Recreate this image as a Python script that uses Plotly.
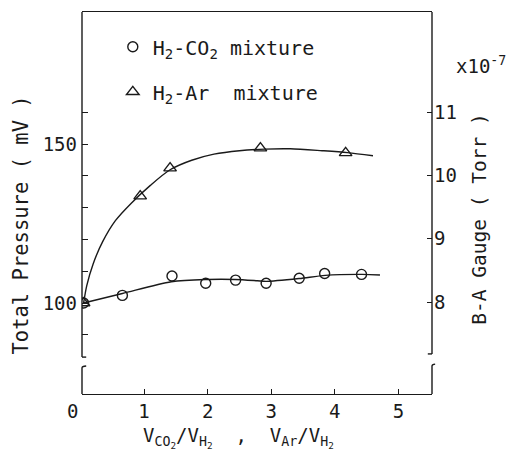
import plotly.graph_objects as go

# ---- data ----
co2_x = [0.05, 0.66, 1.44, 1.97, 2.44, 2.92, 3.44, 3.84, 4.42]
co2_y = [100.0, 102.4, 108.5, 106.2, 107.2, 106.2, 107.8, 109.3, 109.0]
ar_x = [0.05, 0.94, 1.41, 2.83, 4.17]
ar_y = [100.0, 133.6, 142.4, 148.7, 147.2]

# fitted curves
co2_fit_x = [0.05, 0.66, 1.43, 2.0, 2.43, 2.78, 2.92, 3.44, 3.85, 4.43, 4.71]
co2_fit_y = [100.0, 103.0, 106.7, 107.4, 107.4, 107.0, 106.8, 107.7, 108.7, 109.0, 108.8]
ar_fit_x = [0.05, 0.1, 0.2, 0.35, 0.55, 0.8, 1.1, 1.41, 1.75, 2.1, 2.5, 2.9, 3.3, 3.8, 4.2, 4.6]
ar_fit_y = [100.0, 105.5, 112.3, 119.3, 125.9, 131.4, 137.0, 141.9, 144.9, 146.8, 147.9, 148.4, 148.5, 147.9, 147.3, 146.3]

left_ticks = [90, 100, 110, 120, 130, 140, 150, 160]
left_labels = ["", "100", "", "", "", "", "150", ""]
right_ticks = [8, 9, 10, 11]
right_labels = ["8", "9", "10", "11"]
x_ticks = [1, 2, 3, 4, 5]
x_labels = ["1", "2", "3", "4", "5"]

X_RANGE = [0.025, 5.528]
Y_RANGE = [71.4, 191.5]
Y2_RANGE = [6.547, 12.58]

FONT = "DejaVu Sans Mono"
INK = "#1a1a1a"

fig = go.Figure()

fig.add_trace(go.Scatter(x=co2_fit_x, y=co2_fit_y, mode="lines", line=dict(color=INK, width=1.4, shape="spline", smoothing=0.8),
                         showlegend=False, hoverinfo="skip"))
fig.add_trace(go.Scatter(x=ar_fit_x, y=ar_fit_y, mode="lines", line=dict(color=INK, width=1.4, shape="spline", smoothing=0.8),
                         showlegend=False, hoverinfo="skip"))
fig.add_trace(go.Scatter(x=co2_x, y=co2_y, mode="markers", name="H<sub>2</sub>-CO<sub>2</sub> mixture",
                         legendgroup="a",
                         marker=dict(symbol="circle-open", size=10, color=INK, line=dict(width=1.4))))
fig.add_trace(go.Scatter(x=ar_x, y=ar_y, mode="markers", name="H<sub>2</sub>-Ar\u00a0 mixture",
                         legendgroup="b",
                         marker=dict(symbol="triangle-up-open", size=11, color=INK, line=dict(width=1.4))))
# invisible trace to carry the right axis
fig.add_trace(go.Scatter(x=[X_RANGE[0]], y=[Y2_RANGE[0]], yaxis="y2", mode="markers",
                         marker=dict(opacity=0), showlegend=False, hoverinfo="skip"))

# broken vertical axes
LW = 1.4
shapes = [
    dict(type="line", xref="paper", yref="y", x0=0, x1=0, y0=83.0, y1=Y_RANGE[1]),
    dict(type="line", xref="paper", yref="y", x0=0, x1=0.012, y0=83.0, y1=83.0),
    dict(type="path", xref="paper", yref="y", path="M 0,%g L 0,79.6 Q 0,80.1 0.012,80.2" % Y_RANGE[0]),
    dict(type="line", xref="paper", yref="y", x0=1, x1=1, y0=84.0, y1=Y_RANGE[1]),
    dict(type="line", xref="paper", yref="y", x0=1, x1=0.988, y0=84.0, y1=84.0),
    dict(type="path", xref="paper", yref="y", path="M 1,%g L 1,80.2 Q 1,80.7 1.009,80.8" % Y_RANGE[0]),
]
for s in shapes:
    s["line"] = dict(color=INK, width=LW)
fig.update_layout(shapes=shapes)

tickfont = dict(family=FONT, size=19, color=INK)
fig.update_layout(
    width=506, height=449,
    margin=dict(l=74, r=82, t=4, b=63),
    paper_bgcolor="white", plot_bgcolor="white",
    font=dict(family=FONT, size=19, color=INK),
    xaxis=dict(range=X_RANGE, showgrid=False, zeroline=False, showline=True, mirror=True,
               linecolor=INK, linewidth=LW, ticks="inside", ticklen=5, tickwidth=1.2, tickcolor=INK,
               tickvals=x_ticks, ticktext=x_labels, tickfont=tickfont),
    yaxis=dict(range=Y_RANGE, showgrid=False, zeroline=False, showline=False,
               ticks="inside", ticklen=6, tickwidth=1.2, tickcolor=INK, ticklabelstandoff=4,
               tickvals=left_ticks, ticktext=left_labels, tickfont=tickfont),
    yaxis2=dict(range=Y2_RANGE, overlaying="y", side="right", showgrid=False, zeroline=False, showline=False,
                ticks="inside", ticklen=5, tickwidth=1.2, tickcolor=INK, ticklabelstandoff=1,
                tickvals=right_ticks, ticktext=right_labels, tickfont=tickfont),
    legend=dict(x=0.088, y=0.96, xanchor="left", yanchor="top", bgcolor="rgba(0,0,0,0)",
                font=dict(family=FONT, size=20, color=INK), traceorder="grouped", tracegroupgap=16),
)

ann = [
    dict(text="Total Pressure ( mV )", x=-0.1733, y=0.442, textangle=-90, size=20.5),
    dict(text="B-A Gauge ( Torr )", x=1.137, y=0.4588, textangle=-90, size=19.5),
    dict(text="V<sub>CO<sub>2</sub></sub>/V<sub>H<sub>2</sub></sub>  ,  V<sub>Ar</sub>/V<sub>H<sub>2</sub></sub>",
         x=0.4462, y=-0.115, size=19),
    dict(text="0", x=-0.026, y=-0.0444, size=19),
]
for a in ann:
    sz = a.pop("size")
    a.update(xref="paper", yref="paper", showarrow=False, xanchor="center", yanchor="middle",
             font=dict(family=FONT, size=sz, color=INK))
ann.append(dict(text="x10<sup>-7</sup>", x=1.0628, y=0.862, xref="paper", yref="paper", showarrow=False,
                xanchor="left", yanchor="middle", font=dict(family=FONT, size=19, color=INK)))
fig.update_layout(annotations=ann)

fig.write_html("out.html")
